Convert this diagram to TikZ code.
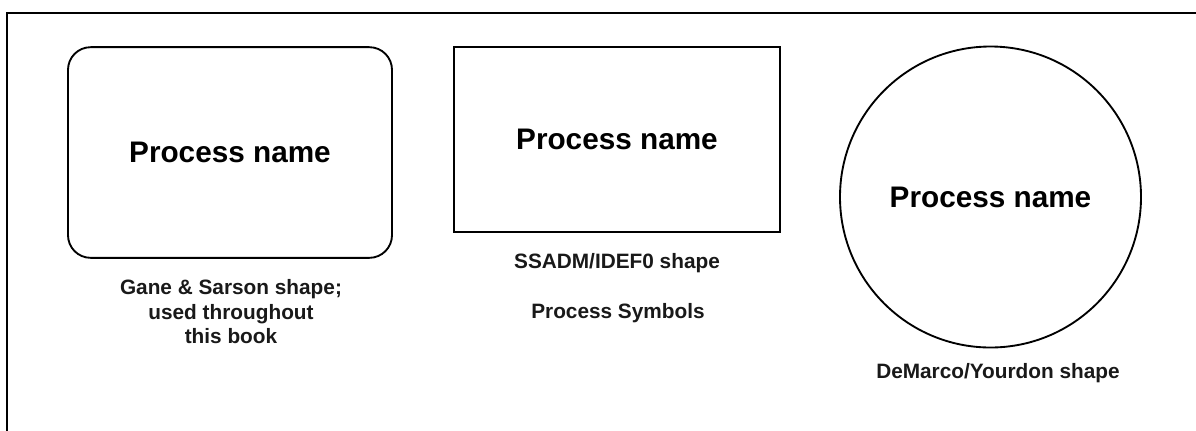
\documentclass[tikz,border=0pt]{standalone}
\usepackage{fontspec}
\setmainfont{Liberation Sans}
\usepackage{tikz}
\usetikzlibrary{positioning}

\begin{document}
\begin{tikzpicture}[
  x=0.75pt,
  y=-0.75pt,
  frame/.style={line width=1.6pt, draw=black},
  shapebox/.style={draw=black, line width=1.4pt, fill=white, align=center,
    font=\fontsize{22.3}{26}\selectfont\bfseries, inner sep=0pt},
  caption/.style={align=center, font=\fontsize{15.6}{18.4}\selectfont\bfseries,
    text=black!90}
]
\useasboundingbox (0,0) rectangle (1196,430);

% open frame: top and left edges only
\coordinate (fbl) at (7,432);
\coordinate (ftl) at (7,13);
\coordinate (ftr) at (1198,13);
\draw[frame] (fbl) -- (ftl) -- (ftr);

\node[shapebox, rounded corners=17pt, minimum width=243pt, minimum height=158pt]
  (gane) at (230,152.5) {Process name};
\node[shapebox, minimum width=244.5pt, minimum height=138.75pt]
  (ssadm) at (617,139.5) {Process name};
\node[shapebox, circle, minimum size=225.75pt]
  (demarco) at (990.5,197) {Process name};

\node[caption] (ganecap) at (231,312)
  {Gane \& Sarson shape;\\used throughout\\this book};
\node[caption] (ssadmcap) at (617,263) {SSADM/IDEF0 shape};
\node[caption] (symbols) at (618,313) {Process Symbols};
\node[caption] (demarcocap) at (998,373) {DeMarco/Yourdon shape};

\end{tikzpicture}
\end{document}
